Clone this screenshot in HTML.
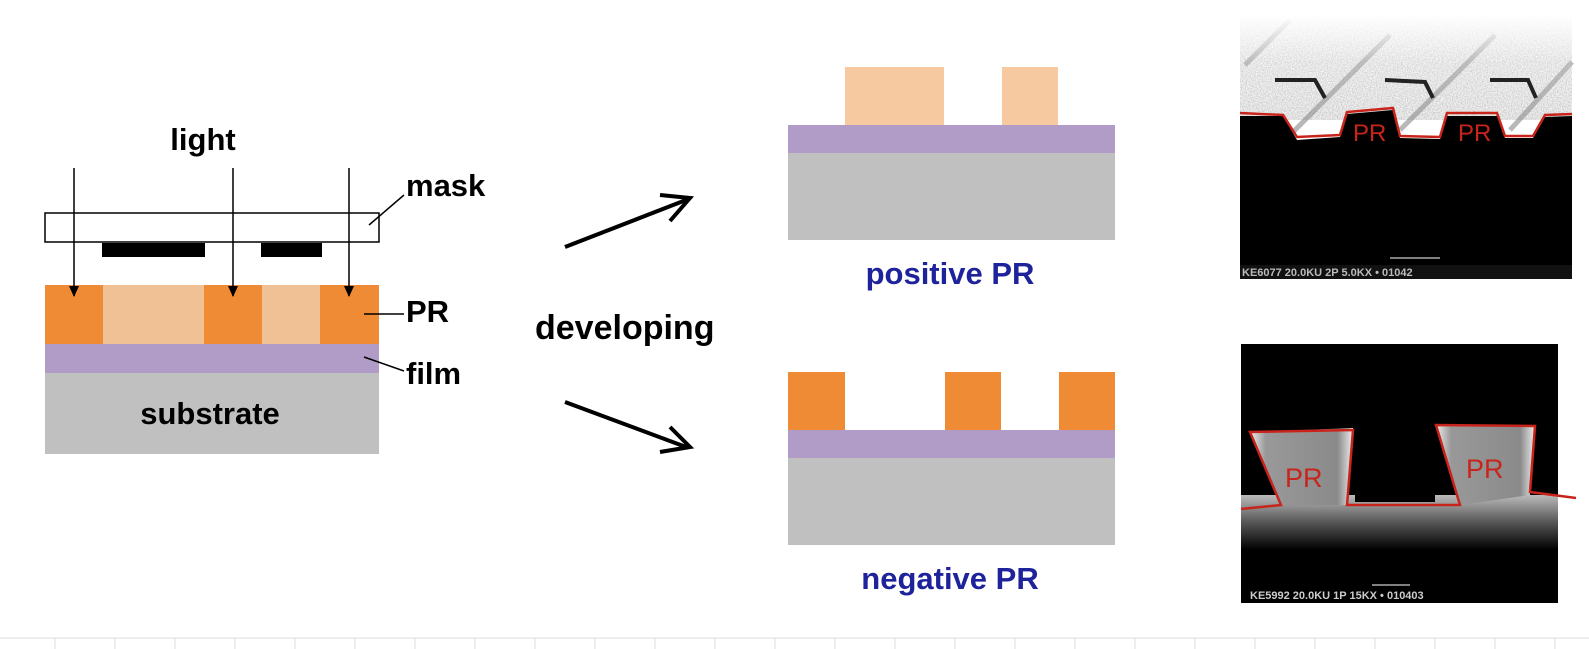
<!DOCTYPE html>
<html><head><meta charset="utf-8"><style>
html,body{margin:0;padding:0;background:#fff;}
svg{display:block;}
text{font-family:"Liberation Sans",Arial,sans-serif;}
</style></head><body>
<svg width="1589" height="649" viewBox="0 0 1589 649" xmlns="http://www.w3.org/2000/svg">
<defs>
<filter id="noise" x="0" y="0" width="100%" height="100%">
<feTurbulence type="fractalNoise" baseFrequency="0.8" numOctaves="2" seed="3"/>
<feColorMatrix type="matrix" values="0.7 0 0 0 0.4  0.7 0 0 0 0.4  0.7 0 0 0 0.4  0 0 0 0 1"/>
</filter>
<linearGradient id="fade" x1="0" y1="0" x2="0" y2="1">
<stop offset="0" stop-color="#fff" stop-opacity="1"/><stop offset="0.45" stop-color="#fff" stop-opacity="0.2"/><stop offset="1" stop-color="#fff" stop-opacity="0"/>
</linearGradient>
<linearGradient id="blk" x1="0" y1="0" x2="1" y2="0">
<stop offset="0" stop-color="#eee"/><stop offset="0.15" stop-color="#999"/><stop offset="0.85" stop-color="#8a8a8a"/><stop offset="1" stop-color="#eee"/>
</linearGradient>
<linearGradient id="band" x1="0" y1="0" x2="0" y2="1">
<stop offset="0" stop-color="#bbb"/><stop offset="0.5" stop-color="#555"/><stop offset="1" stop-color="#000"/>
</linearGradient>
</defs>

<!-- left diagram -->
<rect x="45" y="373" width="334" height="81" fill="#c0c0c0"/>
<rect x="45" y="344" width="334" height="29" fill="#b09cc6"/>
<rect x="45" y="285" width="334" height="59" fill="#f0c195"/>
<rect x="45" y="285" width="58" height="59" fill="#ef8a35"/>
<rect x="204" y="285" width="58" height="59" fill="#ef8a35"/>
<rect x="320" y="285" width="59" height="59" fill="#ef8a35"/>
<rect x="45" y="213" width="334" height="29" fill="#fff" stroke="#000" stroke-width="1.5"/>
<rect x="102" y="243" width="103" height="14" fill="#000"/>
<rect x="261" y="243" width="61" height="14" fill="#000"/>
<line x1="74" y1="168" x2="74" y2="296" stroke="#000" stroke-width="1.5"/>
<path d="M69,286 L79,286 L74,297 z" fill="#000"/>
<line x1="233" y1="168" x2="233" y2="296" stroke="#000" stroke-width="1.5"/>
<path d="M228,286 L238,286 L233,297 z" fill="#000"/>
<line x1="349" y1="168" x2="349" y2="296" stroke="#000" stroke-width="1.5"/>
<path d="M344,286 L354,286 L349,297 z" fill="#000"/>
<line x1="369" y1="225" x2="404" y2="195" stroke="#000" stroke-width="1.5"/>
<line x1="364" y1="314" x2="404" y2="314" stroke="#000" stroke-width="1.5"/>
<line x1="364" y1="357" x2="404" y2="371" stroke="#000" stroke-width="1.5"/>
<text x="203" y="150" font-size="31" font-weight="bold" text-anchor="middle">light</text>
<text x="406" y="196" font-size="31" font-weight="bold">mask</text>
<text x="406" y="322" font-size="31" font-weight="bold">PR</text>
<text x="406" y="384" font-size="31" font-weight="bold">film</text>
<text x="210" y="424" font-size="31" font-weight="bold" text-anchor="middle">substrate</text>

<text x="535" y="339" font-size="34" font-weight="bold">developing</text>
<line x1="565" y1="247" x2="686" y2="200" stroke="#000" stroke-width="4"/>
<path d="M660,195 L690,198 L670,221" fill="none" stroke="#000" stroke-width="4"/>
<line x1="565" y1="402" x2="686" y2="447" stroke="#000" stroke-width="4"/>
<path d="M670,427 L690,447 L660,452" fill="none" stroke="#000" stroke-width="4"/>

<!-- positive -->
<rect x="845" y="67" width="99" height="58" fill="#f6c9a0"/>
<rect x="1002" y="67" width="56" height="58" fill="#f6c9a0"/>
<rect x="788" y="125" width="327" height="28" fill="#b09cc6"/>
<rect x="788" y="153" width="327" height="87" fill="#c0c0c0"/>
<text x="950" y="284" font-size="31" font-weight="bold" fill="#1e239c" text-anchor="middle">positive PR</text>

<!-- negative -->
<rect x="788" y="372" width="57" height="58" fill="#ef8a35"/>
<rect x="945" y="372" width="56" height="58" fill="#ef8a35"/>
<rect x="1059" y="372" width="56" height="58" fill="#ef8a35"/>
<rect x="788" y="430" width="327" height="28" fill="#b09cc6"/>
<rect x="788" y="458" width="327" height="87" fill="#c0c0c0"/>
<text x="950" y="589" font-size="31" font-weight="bold" fill="#1e239c" text-anchor="middle">negative PR</text>

<!-- top SEM -->
<rect x="1240" y="15" width="332" height="105" filter="url(#noise)"/>
<g stroke="#8a8a8a" stroke-width="5" opacity="0.6">
<line x1="1245" y1="65" x2="1290" y2="20"/><line x1="1290" y1="135" x2="1390" y2="35"/><line x1="1400" y1="130" x2="1495" y2="35"/><line x1="1510" y1="130" x2="1572" y2="62"/>
</g>
<rect x="1240" y="15" width="332" height="105" fill="url(#fade)"/>
<path d="M1240,116 L1283,116 L1297,140 L1340,137 L1347,114 L1393,110 L1400,138 L1440,139 L1447,116 L1497,116 L1505,138 L1533,138 L1545,117 L1572,116 L1572,270 L1240,270 z" fill="#000"/>
<path d="M1275,80 L1315,80 L1325,98 M1385,80 L1425,82 L1433,98 M1490,80 L1528,80 L1536,98" stroke="#222" stroke-width="4" fill="none"/>
<path d="M1240,113 L1283,115 L1297,137 L1340,135 L1347,112 L1393,108 L1400,136 L1440,137 L1447,113 L1497,113 L1505,136 L1533,136 L1545,115 L1572,114" stroke="#c8241c" stroke-width="2.5" fill="none"/>
<text x="1353" y="141" font-size="24" fill="#c8241c" font-family="Liberation Sans">PR</text>
<text x="1458" y="141" font-size="24" fill="#c8241c" font-family="Liberation Sans">PR</text>
<rect x="1240" y="265" width="332" height="14" fill="#111"/>
<line x1="1390" y1="258" x2="1440" y2="258" stroke="#aaa" stroke-width="1.5"/>
<text x="1242" y="276" font-size="11" font-weight="bold" fill="#bbb" font-family="Liberation Mono">KE6077 20.0KU   2P 5.0KX • 01042</text>

<!-- bottom SEM -->
<rect x="1241" y="344" width="317" height="259" fill="#000"/>
<rect x="1241" y="495" width="317" height="55" fill="url(#band)"/>
<path d="M1250,432 L1353,428 L1347,505 L1281,505 z" fill="url(#blk)"/>
<path d="M1436,425 L1535,426 L1530,495 L1460,505 z" fill="url(#blk)"/>
<rect x="1355" y="440" width="80" height="62" fill="#000"/>
<path d="M1241,509 L1281,505 L1250,432 L1353,430 L1347,505 L1460,505 L1436,425 L1535,426 L1530,492 L1576,498" stroke="#c8241c" stroke-width="2.5" fill="none"/>
<text x="1285" y="487" font-size="27" fill="#c8241c" font-family="Liberation Sans">PR</text>
<text x="1466" y="478" font-size="27" fill="#c8241c" font-family="Liberation Sans">PR</text>
<line x1="1372" y1="585" x2="1410" y2="585" stroke="#aaa" stroke-width="1.5"/>
<text x="1250" y="599" font-size="11" font-weight="bold" fill="#ccc" font-family="Liberation Mono">KE5992 20.0KU   1P  15KX • 010403</text>

<!-- bottom grid -->
<line x1="0" y1="638" x2="1589" y2="638" stroke="#ddd" stroke-width="1"/>
<g stroke="#ddd" stroke-width="1">
<line x1="55" y1="638" x2="55" y2="649"/><line x1="115" y1="638" x2="115" y2="649"/><line x1="175" y1="638" x2="175" y2="649"/><line x1="235" y1="638" x2="235" y2="649"/><line x1="295" y1="638" x2="295" y2="649"/><line x1="355" y1="638" x2="355" y2="649"/><line x1="415" y1="638" x2="415" y2="649"/><line x1="475" y1="638" x2="475" y2="649"/><line x1="535" y1="638" x2="535" y2="649"/><line x1="595" y1="638" x2="595" y2="649"/><line x1="655" y1="638" x2="655" y2="649"/><line x1="715" y1="638" x2="715" y2="649"/><line x1="775" y1="638" x2="775" y2="649"/><line x1="835" y1="638" x2="835" y2="649"/><line x1="895" y1="638" x2="895" y2="649"/><line x1="955" y1="638" x2="955" y2="649"/><line x1="1015" y1="638" x2="1015" y2="649"/><line x1="1075" y1="638" x2="1075" y2="649"/><line x1="1135" y1="638" x2="1135" y2="649"/><line x1="1195" y1="638" x2="1195" y2="649"/><line x1="1255" y1="638" x2="1255" y2="649"/><line x1="1315" y1="638" x2="1315" y2="649"/><line x1="1375" y1="638" x2="1375" y2="649"/><line x1="1435" y1="638" x2="1435" y2="649"/><line x1="1495" y1="638" x2="1495" y2="649"/><line x1="1555" y1="638" x2="1555" y2="649"/>
</g>
</svg>
</body></html>
